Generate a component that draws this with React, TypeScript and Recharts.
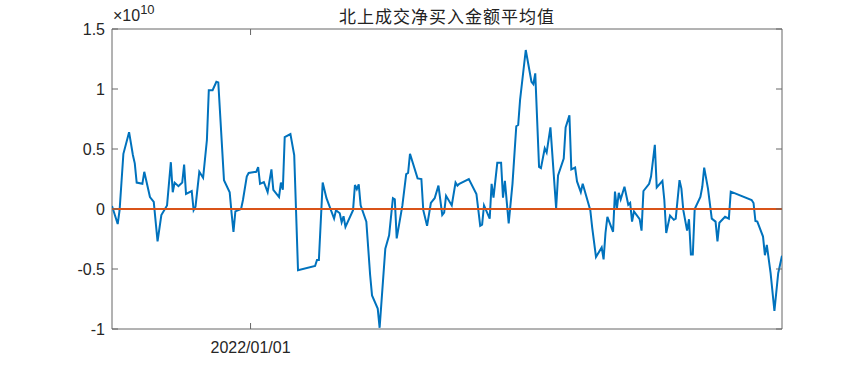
import { LineChart, Line, XAxis, YAxis, ReferenceLine, ReferenceArea } from 'recharts';

// trading days, counted from 2022/01/01
const days = [
  -73, -70, -69, -67, -64, -62, -61, -60, -57, -56,
  -53, -51, -49, -47, -44, -42, -41, -40, -38, -36,
  -35, -34, -31, -30, -29, -27, -25, -23, -22, -20,
  -18, -17, -14, -11, -10, -9, -8, -5, -4, -2,
  -1, 3, 4, 5, 7, 9, 11, 12, 15, 16,
  17, 18, 21, 23, 25, 34, 35, 36, 38, 40,
  44, 45, 47, 48, 49, 50, 54, 55, 56, 57,
  58, 61, 63, 64, 67, 68, 71, 73, 75, 76,
  77, 80, 82, 83, 84, 88, 90, 91, 93, 95,
  97, 99, 101, 102, 103, 106, 108, 109, 110, 115,
  119, 121, 122, 123, 126, 127, 128, 130, 132, 133,
  134, 136, 138, 140, 141, 142, 145, 148, 149, 150,
  152, 153, 155, 156, 158, 161, 162, 165, 166, 168,
  169, 171, 172, 174, 175, 179, 180, 182, 185, 186,
  187, 188, 191, 192, 193, 194, 195, 197, 199, 200,
  201, 202, 205, 206, 207, 210, 211, 213, 214, 217,
  218, 219, 221, 223, 224, 226, 227, 228, 230, 231,
  232, 233, 234, 237, 238, 239, 241, 243, 245, 246,
  247, 250, 252, 253, 264, 265, 266, 267, 270, 271,
  272, 274, 276, 278, 280,
];

// 北上成交净买入金额平均值, in units of 1e10
const netBuyAvg = [
  0.025, -0.125, -0.01, 0.46, 0.64, 0.45, 0.38, 0.22, 0.21, 0.31,
  0.10, 0.06, -0.27, -0.05, 0.03, 0.39, 0.14, 0.22, 0.19, 0.22,
  0.37, 0.125, 0.15, -0.01, 0.02, 0.31, 0.26, 0.575, 0.99, 0.99,
  1.06, 1.055, 0.24, 0.14, -0.035, -0.19, -0.02, 0, 0.075, 0.27,
  0.30, 0.31, 0.35, 0.21, 0.225, 0.14, 0.33, 0.16, 0.10, 0.22,
  0.16, 0.60, 0.625, 0.45, -0.51, -0.475, -0.425, -0.425, 0.22, 0.09,
  -0.08, -0.01, -0.035, -0.11, -0.06, -0.15, -0.01, 0.2, 0.165, 0.205,
  0.03, -0.105, -0.55, -0.72, -0.83, -0.99, -0.33, -0.22, 0.09, 0.08,
  -0.245, 0.03, 0.29, 0.30, 0.46, 0.255, 0.25, -0.01, -0.14, 0.05,
  0.09, 0.195, -0.05, -0.03, 0.11, 0.03, 0.22, 0.195, 0.21, 0.25,
  0.125, -0.14, -0.13, 0.03, -0.08, 0.21, 0.095, 0.385, 0.385, 0.095,
  0.235, -0.12, 0.21, 0.69, 0.70, 0.91, 1.325, 1.06, 1.04, 1.13,
  0.35, 0.34, 0.505, 0.47, 0.68, 0.005, 0.28, 0.42, 0.68, 0.78,
  0.33, 0.345, 0.23, 0.14, 0.21, -0.01, -0.155, -0.40, -0.32, -0.42,
  -0.20, -0.065, -0.19, 0.145, 0, 0.135, 0.08, 0.185, 0.035, 0.05,
  -0.105, -0.02, -0.085, -0.18, 0.15, 0.21, 0.27, 0.535, 0.18, 0.235,
  0.075, -0.20, -0.055, -0.09, -0.08, 0.24, 0.17, -0.01, -0.18, -0.085,
  -0.38, -0.38, 0, 0.10, 0.185, 0.345, 0.17, -0.08, -0.105, -0.27,
  -0.115, -0.065, -0.08, 0.145, 0.075, 0.05, -0.10, -0.105, -0.23, -0.385,
  -0.30, -0.535, -0.85, -0.535, -0.39,
];

const yTicks = [-1, -0.5, 0, 0.5, 1, 1.5];
const xTicks = [0];
const xTickLabels: Record<number, string> = { 0: '2022/01/01' };

const W = 865;
const H = 371;
const Y_AXIS_W = 40;
const X_AXIS_H = 30;
const M = { top: 29, right: 83, bottom: 42 - X_AXIS_H, left: 112 - Y_AXIS_W };
const PLOT_LEFT = 112;
const PLOT_RIGHT = W - M.right;
const PLOT_TOP = M.top;
const PLOT_BOTTOM = H - 42;
const AXIS = '#262626';
const FONT = '"Liberation Sans", Arial, Helvetica, sans-serif';

const data = days.map((d, i) => ({ day: d, value: netBuyAvg[i] }));

const YTick = ({ y, payload }: any) => (
  <g>
    <text
      x={PLOT_LEFT - 7}
      y={y}
      textAnchor="end"
      dominantBaseline="central"
      fill={AXIS}
      fontSize={16}
      fontFamily={FONT}
    >
      {String(payload.value)}
    </text>
    <line x1={PLOT_LEFT} x2={PLOT_LEFT + 6} y1={y} y2={y} stroke="#666" />
    <line x1={PLOT_RIGHT - 6} x2={PLOT_RIGHT} y1={y} y2={y} stroke="#666" />
  </g>
);

const XTick = ({ x, payload }: any) => (
  <g>
    <text
      x={x}
      y={PLOT_BOTTOM + 18}
      textAnchor="middle"
      dominantBaseline="central"
      fill={AXIS}
      fontSize={16}
      fontFamily={FONT}
    >
      {xTickLabels[payload.value] ?? ''}
    </text>
    <line x1={x} x2={x} y1={PLOT_BOTTOM} y2={PLOT_BOTTOM - 6} stroke="#666" />
    <line x1={x} x2={x} y1={PLOT_TOP} y2={PLOT_TOP + 6} stroke="#666" />
  </g>
);

export default function App() {
  return (
    <div style={{ position: 'absolute', left: 0, top: 0, width: W, height: H, background: '#fff' }}>
      <div
        style={{
          position: 'absolute',
          left: PLOT_LEFT,
          width: PLOT_RIGHT - PLOT_LEFT,
          top: 4,
          textAlign: 'center',
          fontFamily: '"Noto Sans CJK SC", sans-serif',
          fontSize: 17,
          lineHeight: '24px',
          letterSpacing: 1,
          color: '#222',
        }}
      >
        北上成交净买入金额平均值
      </div>
      <div
        style={{
          position: 'absolute',
          left: 113,
          top: 7,
          fontFamily: FONT,
          fontSize: 16,
          lineHeight: '18px',
          color: AXIS,
          whiteSpace: 'nowrap',
        }}
      >
        ×10<span style={{ fontSize: 13, position: 'relative', top: -7 }}>10</span>
      </div>
      <LineChart width={W} height={H} data={data} margin={M}>
        <XAxis
          dataKey="day"
          type="number"
          domain={[-73, 280]}
          ticks={xTicks}
          allowDataOverflow
          height={X_AXIS_H}
          tickLine={false}
          axisLine={false}
          tick={XTick}
          interval={0}
        />
        <YAxis
          type="number"
          domain={[-1, 1.5]}
          ticks={yTicks}
          allowDataOverflow
          width={Y_AXIS_W}
          tickLine={false}
          axisLine={false}
          tick={YTick}
          interval={0}
        />
        <Line
          type="linear"
          dataKey="value"
          stroke="#0072BD"
          strokeWidth={2}
          dot={false}
          isAnimationActive={false}
        />
        <ReferenceLine y={0} stroke="#D95319" strokeWidth={2} />
        <ReferenceArea x1={-73} x2={280} y1={-1} y2={1.5} fill="none" stroke="#666" strokeWidth={1} />
      </LineChart>
    </div>
  );
}
